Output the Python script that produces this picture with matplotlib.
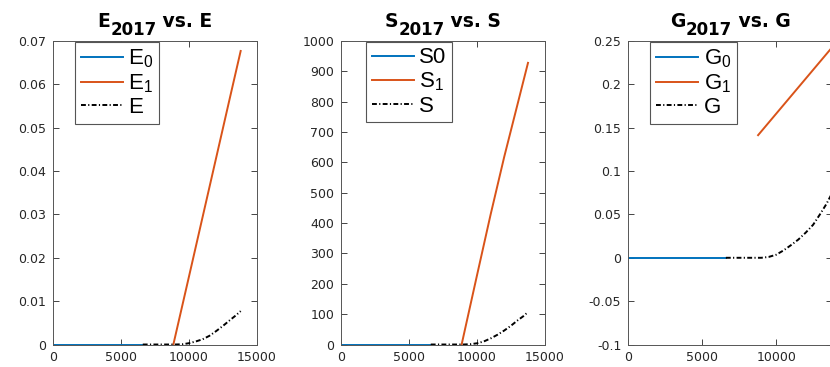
import matplotlib
matplotlib.use("Agg")
import matplotlib.pyplot as plt
from matplotlib.transforms import IdentityTransform

plt.rcParams['font.family'] = ['DejaVu Sans']
plt.rcParams['mathtext.fontset'] = 'custom'
plt.rcParams['mathtext.rm'] = 'Liberation Sans'
plt.rcParams['mathtext.it'] = 'Liberation Sans'

# ---------------- data ----------------
# E panel
e0_x = [0, 6600]
e0_y = [0, 0]
e1_x = [8850, 10000, 11000, 12000, 13000, 13800]
e1_y = [0, 0.0157, 0.0294, 0.0431, 0.0568, 0.0677]
e_x = [6600, 9000, 9500, 10000, 10500, 11000, 11500, 12000, 12500, 13000, 13400, 13800]
e_y = [0, 0, 0.00005, 0.0003, 0.0007, 0.0012, 0.0020, 0.0031, 0.0043, 0.0056, 0.0066, 0.0077]

# S panel
s0_x = [0, 6600]
s0_y = [0, 0]
s1_x = [8870, 10000, 11000, 12000, 13000, 13750]
s1_y = [0, 228, 428, 618, 795, 928]
s_x = [6600, 9000, 9500, 10000, 10500, 11000, 11500, 12000, 12500, 13000, 13400, 13750]
s_y = [0, 0, 1, 4, 10, 20, 32, 46, 62, 80, 93, 107]

# G panel
g0_x = [0, 6600]
g0_y = [0, 0]
g1_x = [8780, 13800]
g1_y = [0.1414, 0.2430]
g_x = [6600, 9000, 9500, 10000, 10500, 11000, 11500, 12000, 12500, 13000, 13400, 13800]
g_y = [0, 0, 0.001, 0.0035, 0.0085, 0.0145, 0.021, 0.029, 0.038, 0.051, 0.062, 0.075]

# axis ticks / labels
e_yticks = [0, 0.01, 0.02, 0.03, 0.04, 0.05, 0.06, 0.07]
e_yticklabels = ['0', '0.01', '0.02', '0.03', '0.04', '0.05', '0.06', '0.07']
s_yticks = [0, 100, 200, 300, 400, 500, 600, 700, 800, 900, 1000]
s_yticklabels = ['0', '100', '200', '300', '400', '500', '600', '700', '800', '900', '1000']
g_yticks = [-0.1, -0.05, 0, 0.05, 0.1, 0.15, 0.2, 0.25]
g_yticklabels = ['-0.1', '-0.05', '0', '0.05', '0.1', '0.15', '0.2', '0.25']
xticks_15 = [0, 5000, 10000, 15000]
xticklabels_15 = ['0', '5000', '10000', '15000']
xticks_g = [0, 5000, 10000]
xticklabels_g = ['0', '5000', '10000']

BLUE = '#0072BD'
ORANGE = '#D95319'
AXC = '#262626'

W, H = 830, 367
fig = plt.figure(figsize=(W / 100, H / 100), dpi=100)

AX_W = 204
AX_TOP = 41
AX_BOT = 344.5


def make_ax(left_px):
    ax = fig.add_axes([left_px / W, (H - AX_BOT) / H, AX_W / W, (AX_BOT - AX_TOP) / H])
    ax.tick_params(direction='in', length=4, width=0.6, colors=AXC, labelsize=9,
                   top=True, right=True, pad=5)
    for s in ax.spines.values():
        s.set_linewidth(0.7)
        s.set_color('#555555')
    return ax


def legend(ax, labels, xoff):
    leg = ax.legend(labels, loc='upper left', bbox_to_anchor=(xoff, 0.997),
                    borderaxespad=0, prop={'family': 'Liberation Sans', 'size': 16},
                    frameon=True, fancybox=False,
                    framealpha=1, edgecolor='#555555', handlelength=1.9,
                    handletextpad=0.25, borderpad=0.25, labelspacing=0.1)
    leg.get_frame().set_linewidth(0.8)


def title(ax, base, sub, rest):
    r = fig.canvas.get_renderer()
    pos = ax.get_position()
    cx = (pos.x0 + pos.x1) / 2 * W
    base_y = H - 27
    kw = dict(weight='bold', color='black', transform=IdentityTransform())
    t1 = fig.text(0, base_y, base, fontsize=13.5, **kw)
    t2 = fig.text(0, base_y - 8, sub, fontsize=12, **kw)
    t3 = fig.text(0, base_y, rest, fontsize=13.5, **kw)
    w1 = t1.get_window_extent(r).width
    w2 = t2.get_window_extent(r).width
    w3 = t3.get_window_extent(r).width
    x0 = cx - (w1 + w2 + w3) / 2
    t1.set_x(x0)
    t2.set_x(x0 + w1)
    t3.set_x(x0 + w1 + w2)


LW = 1.4
DASH = (2.5, 1.2, 0.6, 1.2)

# ---- E ----
ax1 = make_ax(53)
ax1.plot(e0_x, e0_y, color=BLUE, lw=LW)
ax1.plot(e1_x, e1_y, color=ORANGE, lw=LW)
ax1.plot(e_x, e_y, color='black', lw=LW, ls=(0, DASH))
ax1.set_xlim(0, 15000)
ax1.set_ylim(0, 0.07)
ax1.set_xticks(xticks_15, xticklabels_15)
ax1.set_yticks(e_yticks, e_yticklabels)
legend(ax1, [r'E$_\mathregular{0}$', r'E$_\mathregular{1}$', 'E'], 0.108)

# ---- S ----
ax2 = make_ax(341)
ax2.plot(s0_x, s0_y, color=BLUE, lw=LW)
ax2.plot(s1_x, s1_y, color=ORANGE, lw=LW)
ax2.plot(s_x, s_y, color='black', lw=LW, ls=(0, DASH))
ax2.set_xlim(0, 15000)
ax2.set_ylim(0, 1000)
ax2.set_xticks(xticks_15, xticklabels_15)
ax2.set_yticks(s_yticks, s_yticklabels)
legend(ax2, ['S0', r'S$_\mathregular{1}$', 'S'], 0.123)

# ---- G ----
ax3 = make_ax(628.3)
ax3.plot(g0_x, g0_y, color=BLUE, lw=LW)
ax3.plot(g1_x, g1_y, color=ORANGE, lw=LW)
ax3.plot(g_x, g_y, color='black', lw=LW, ls=(0, DASH))
ax3.set_xlim(0, 13800)
ax3.set_ylim(-0.1, 0.25)
ax3.set_xticks(xticks_g, xticklabels_g)
ax3.set_yticks(g_yticks, g_yticklabels)
legend(ax3, [r'G$_\mathregular{0}$', r'G$_\mathregular{1}$', 'G'], 0.108)

fig.canvas.draw()
title(ax1, 'E', '2017', ' vs. E')
title(ax2, 'S', '2017', ' vs. S')
title(ax3, 'G', '2017', ' vs. G')

fig.savefig('out.png', dpi=100)
